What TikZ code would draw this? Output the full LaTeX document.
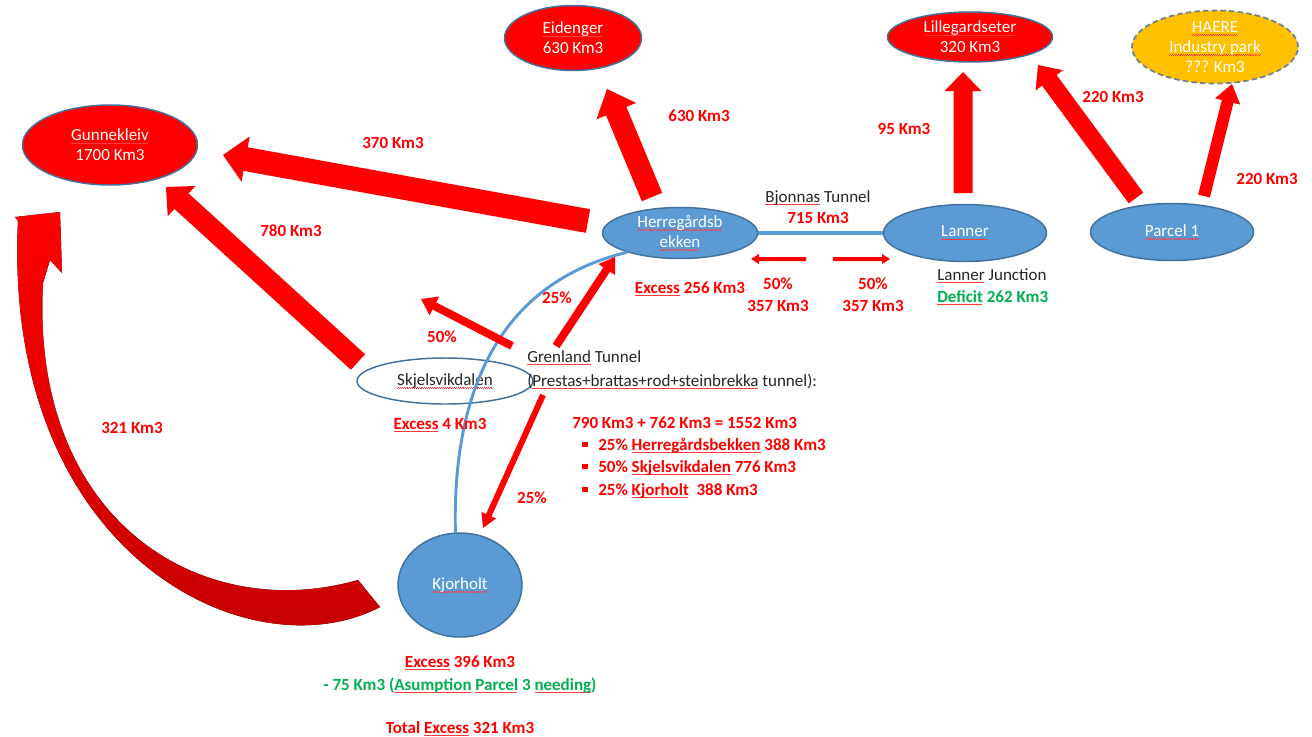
\documentclass[tikz,border=0pt]{standalone}
\usepackage{fontspec}
\setmainfont{Carlito}
\usetikzlibrary{shapes.geometric,calc}
\definecolor{arrred}{HTML}{FF0000}
\definecolor{darkarr}{HTML}{C00000}
\definecolor{labred}{HTML}{FF0000}
\definecolor{labgreen}{HTML}{00B050}
\definecolor{nodeblue}{HTML}{5B9BD5}
\definecolor{edgeblue}{HTML}{41719C}
\definecolor{haerey}{HTML}{FFC000}
\definecolor{haeredge}{HTML}{6F7F96}
\definecolor{sqred}{HTML}{FF3A3A}
\definecolor{txtgray}{HTML}{262626}
\newsavebox\sqbox
\newcommand\sq[1]{\sbox\sqbox{#1}\rlap{\color{sqred}\leaders\hbox{\rule[-2.3pt]{0.7pt}{0.45pt}\rule[-1.8pt]{0.7pt}{0.45pt}}\hskip\wd\sqbox}\usebox\sqbox}
\newcommand\fatarrow[5]{%
  \pgfmathsetmacro\fas{#3*0.375}%
  \pgfmathsetmacro\fah{#4*0.375}%
  \pgfmathsetmacro\fal{#5*0.75}%
  \coordinate (fa-h) at ($(#2)!\fal pt!(#1)$);
  \fill[arrred] ($(#1)!\fas pt!90:(#2)$) -- ($(fa-h)!\fas pt!90:(#2)$) -- ($(fa-h)!\fah pt!90:(#2)$) -- (#2) -- ($(fa-h)!\fah pt!-90:(#2)$) -- ($(fa-h)!\fas pt!-90:(#2)$) -- ($(#1)!\fas pt!-90:(#2)$) -- cycle;}
\tikzset{
  redell/.style={ellipse, draw=edgeblue, line width=1.1pt, fill=arrred, inner sep=0pt},
  blueell/.style={ellipse, draw=edgeblue, line width=1.1pt, fill=nodeblue, inner sep=0pt},
  wtext/.style={text=white, align=center, inner sep=0pt, font=\fontsize{12.75}{15}\selectfont},
  lab/.style={text=labred, inner sep=0pt, text height=9pt, text depth=0pt, font=\fontsize{12.75}{15}\selectfont\bfseries},
  glab/.style={lab, text=labgreen},
  blab/.style={text=txtgray, inner sep=0pt, text height=9pt, text depth=0pt, font=\fontsize{12.75}{15}\selectfont},
  tunnel/.style={draw=nodeblue, line width=2.4pt},
}
\begin{document}
\begin{tikzpicture}[x=0.75pt,y=-0.75pt]
\fill[white] (0,0) rectangle (1312,736);
\useasboundingbox (0,0) rectangle (1312,736);

% ---------- places ----------
\node[redell, minimum width=131.25pt, minimum height=60pt,
  label={[wtext]center:{\sq{Gunnekleiv}\\1700 Km3}}] (gunn) at (110,145) {};
\node[redell, minimum width=102.75pt, minimum height=48.75pt,
  label={[wtext]center:{\sq{Eidenger}\\630 Km3}}] (eid) at (573,38) {};
\node[redell, minimum width=123.75pt, minimum height=37.5pt,
  label={[wtext]center:{\sq{Lillegardseter}\\320 Km3}}] (lille) at (970,37) {};
\node[ellipse, fill=haerey, draw=haeredge, line width=1.3pt, dash pattern=on 4pt off 2.5pt,
  inner sep=0pt, minimum width=124.5pt, minimum height=54.75pt,
  label={[wtext]center:{\sq{HAERE}\\\sq{Industry park}\\??? Km3}}] (haere) at (1215,47) {};
\node[blueell, minimum width=116.25pt, minimum height=38.25pt,
  label={[wtext]center:{\sq{Herregårdsb}\\\sq{ekken}}}] (herre) at (680,233) {};
\node[blueell, minimum width=122.25pt, minimum height=42.75pt,
  label={[wtext]center:{\sq{Lanner}}}] (lanner) at (965,233) {};
\node[blueell, minimum width=122.25pt, minimum height=42.75pt,
  label={[wtext]center:{\sq{Parcel 1}}}] (parcel) at (1172,232) {};
\node[ellipse, draw=edgeblue, line width=1.1pt, fill=white, inner sep=0pt,
  minimum width=132pt, minimum height=34.5pt,
  label={[wtext, text=txtgray]center:{\sq{Skjelsvikdalen}}}] (skj) at (445,381) {};
\node[blueell, minimum width=93pt, minimum height=78pt,
  label={[wtext]center:{\sq{Kjorholt}}}] (kjor) at (460,585) {};

% ---------- tunnels ----------
\draw[tunnel] (herre.east) -- (lanner.west);
\draw[tunnel, line width=2.2pt] (herre.200) .. controls (500,283) and (452,390) .. (kjor.95);

% ---------- fat arrows ----------
\coordinate (a1t) at (588,221); \coordinate (a1h) at (223,155);
\fatarrow{a1t}{a1h}{24}{46}{23}
\coordinate (a2t) at (652,197); \coordinate (a2h) at (607,89);
\fatarrow{a2t}{a2h}{22}{43}{24}
\coordinate (a3t) at (358,362); \coordinate (a3h) at (166,187);
\fatarrow{a3t}{a3h}{21}{41}{21}
\coordinate (a4t) at (963,193); \coordinate (a4h) at (963,72);
\fatarrow{a4t}{a4h}{19}{37}{19}
\coordinate (a5t) at (1136,198); \coordinate (a5h) at (1038,65);
\fatarrow{a5t}{a5h}{18}{34}{19}
\coordinate (a6t) at (1204,196); \coordinate (a6h) at (1232,84);
\fatarrow{a6t}{a6h}{12}{26}{18}
% Grenland splits
\coordinate (g1t) at (512,346); \coordinate (g1h) at (421,299);
\fatarrow{g1t}{g1h}{8}{21}{15}
\coordinate (g2t) at (556,346); \coordinate (g2h) at (615,257);
\fatarrow{g2t}{g2h}{8}{20}{15}
\coordinate (g3t) at (543,395); \coordinate (g3h) at (483,528);
\fatarrow{g3t}{g3h}{6}{16}{14}
% Bjonnas splits
\coordinate (b1t) at (806,259); \coordinate (b1h) at (751,259);
\fatarrow{b1t}{b1h}{4}{10}{8}
\coordinate (b2t) at (833,259); \coordinate (b2h) at (890,259);
\fatarrow{b2t}{b2h}{4}{10}{8}

% ---------- curved arrow Kjorholt -> Gunnekleiv ----------
\coordinate (ctail1) at (380,607);
\coordinate (ctail2) at (358,580);
\coordinate (chead1) at (18,221);
\coordinate (chead2) at (50,260);
\coordinate (cinner) at (43,283);
\coordinate (ctipL) at (15,217);
\coordinate (ctip) at (60,212);
\coordinate (ctipR) at (62,273);
\fill[top color=arrred, middle color=arrred, bottom color=darkarr]
  (ctail1) .. controls (250,675) and (2,555) .. (chead1) -- (ctipL) -- (ctip) -- (ctipR) -- (chead2) -- (cinner)
  .. controls (30,520) and (200,625) .. (ctail2) -- cycle;

% ---------- labels ----------
\node[lab] (l370) at (393,142) {370 Km3};
\node[lab] (l630) at (699,115) {630 Km3};
\node[lab] (l95) at (904,128) {95 Km3};
\node[lab] (l220a) at (1113,96) {220 Km3};
\node[lab] (l220b) at (1267,178) {220 Km3};
\node[lab] (l780) at (291,230) {780 Km3};
\node[lab] (l321) at (132,427) {321 Km3};
\node[blab] (bjo) at (818,196) {\sq{Bjonnas} Tunnel};
\node[lab] (b715) at (818,217) {715 Km3};
\node[lab] (ex256) at (690,287) {\sq{Excess} 256 Km3};
\node[lab] (p50a) at (778,283) {50\%};
\node[lab] (k357a) at (778,305) {357 Km3};
\node[lab] (p50b) at (873,283) {50\%};
\node[lab] (k357b) at (873,305) {357 Km3};
\node[blab, anchor=west] (lj) at (937,274) {\sq{Lanner} Junction};
\node[glab, anchor=west] (def) at (937,296) {\sq{Deficit} 262 Km3};
\node[lab] (p25a) at (557,297) {25\%};
\node[lab] (p50c) at (442,336) {50\%};
\node[blab, anchor=west] (gren) at (527,356) {\sq{Grenland} Tunnel};
\node[blab, anchor=west] (gren2) at (527,380) {(\sq{Prestas+brattas+rod+steinbrekka} tunnel):};
\node[lab] (ex4) at (440,423) {\sq{Excess} 4 Km3};
\node[lab, anchor=west] (eq) at (572,422) {790 Km3 + 762 Km3 = 1552 Km3};
\node[lab, anchor=west] (bl1) at (582,444) {\rule[2pt]{4pt}{4pt}\hspace{8pt}25\% \sq{Herregårdsbekken} 388 Km3};
\node[lab, anchor=west] (bl2) at (582,466) {\rule[2pt]{4pt}{4pt}\hspace{8pt}50\% \sq{Skjelsvikdalen} 776 Km3};
\node[lab, anchor=west] (bl3) at (582,489) {\rule[2pt]{4pt}{4pt}\hspace{8pt}25\% \sq{Kjorholt}\ \ 388 Km3};
\node[lab] (p25b) at (532,497) {25\%};
\node[lab] (ex396) at (460,661) {\sq{Excess} 396 Km3};
\node[glab] (m75) at (460,684) {- 75 Km3 (\sq{Asumption} \sq{Parcel} 3 \sq{needing})};
\node[lab] (tot) at (460,727) {Total \sq{Excess} 321 Km3};
\end{tikzpicture}
\end{document}
